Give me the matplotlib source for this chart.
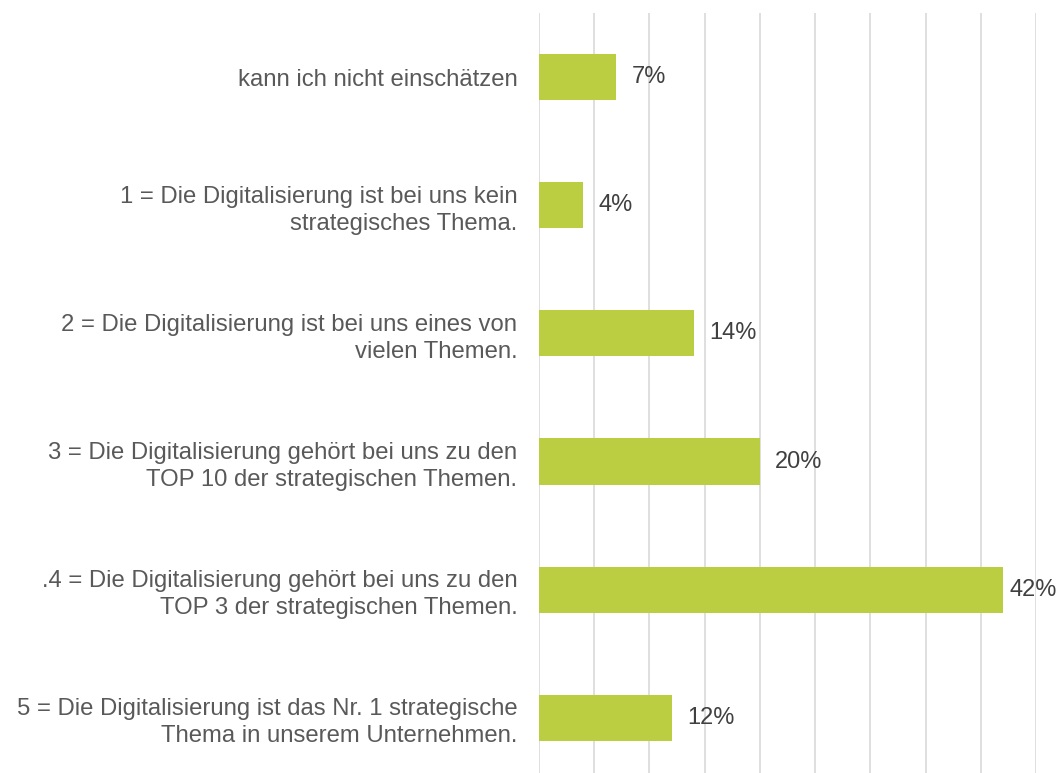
import matplotlib.pyplot as plt

labels = [
    "kann ich nicht einschätzen",
    "1 = Die Digitalisierung ist bei uns kein\nstrategisches Thema.",
    "2 = Die Digitalisierung ist bei uns eines von\nvielen Themen.",
    "3 = Die Digitalisierung gehört bei uns zu den\nTOP 10 der strategischen Themen.",
    ".4 = Die Digitalisierung gehört bei uns zu den\nTOP 3 der strategischen Themen.",
    "5 = Die Digitalisierung ist das Nr. 1 strategische\nThema in unserem Unternehmen.",
]
values = [7, 4, 14, 20, 42, 12]

plt.rcParams['font.family'] = ['Liberation Sans', 'DejaVu Sans']

fig = plt.figure(figsize=(10.62, 7.73), dpi=100)
ax = fig.add_axes([539 / 1062, 0, (1036 - 539) / 1062, 1 - 13 / 773])

pos = list(range(len(values)))
ax.barh(pos, values, height=0.36, color='#BBCD40', zorder=2)

ax.set_xlim(0, 45)
ax.set_ylim(5.43, -0.5)
ax.set_xticks(range(0, 46, 5))
ax.tick_params(axis='x', bottom=False, labelbottom=False)
ax.grid(axis='x', color='#D9D9D9', linewidth=1.2, zorder=0)
for s in ax.spines.values():
    s.set_visible(False)

ax.set_yticks(pos)
ax.set_yticklabels(labels, fontsize=17.2, color='#595959', ha='right', linespacing=1.3)
ax.tick_params(axis='y', left=False, pad=12)

# the longest bar's label sits closer so it stays inside the figure
for p, v in zip(pos, values):
    off = 5 if v == max(values) else 11
    ax.annotate(f"{v}%", (v, p), xytext=(off, 0), textcoords='offset points',
                va='center', ha='left', fontsize=17, color='#404040', zorder=3)

fig.savefig('out.png', dpi=100)
